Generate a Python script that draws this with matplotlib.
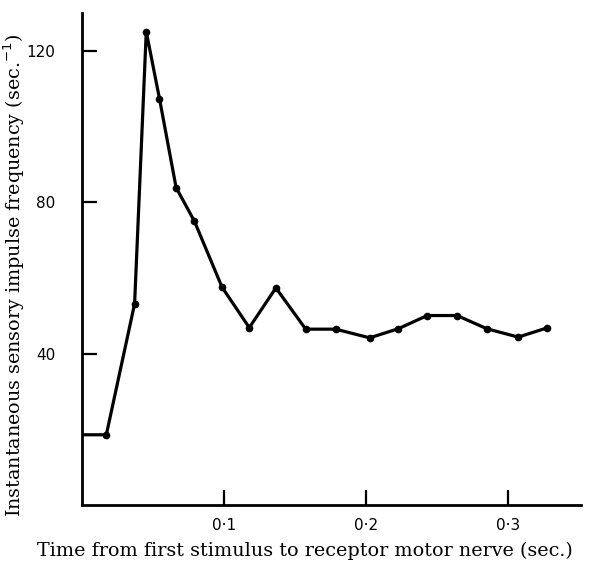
import matplotlib.pyplot as plt

# time after first stimulus (sec.) and instantaneous impulse frequency (sec.^-1)
time_s = [0.0, 0.0172, 0.0371, 0.0453, 0.0546, 0.0663, 0.0792, 0.0986, 0.1178,
          0.1365, 0.1575, 0.1786, 0.2025, 0.2225, 0.243, 0.264, 0.285, 0.307, 0.327]
freq = [18.6, 18.6, 53.2, 125.1, 107.4, 83.9, 75.0, 57.6, 46.9,
        57.4, 46.5, 46.5, 44.2, 46.6, 50.1, 50.1, 46.6, 44.4, 46.8]

xticks = [0.1, 0.2, 0.3]
xticklabels = ["0·1", "0·2", "0·3"]
yticks = [40, 80, 120]

fig = plt.figure(figsize=(5.89, 5.67), dpi=100)
ax = fig.add_axes([0.139, 0.109, 0.847, 0.868])

# first value has no dot, the trace just starts at the axis
ax.plot(time_s, freq, color="black", lw=2.3, marker="o", ms=4.5,
        markevery=list(range(1, len(time_s))), solid_joinstyle="round")

ax.set_xlim(0, 0.351)
ax.set_ylim(0, 130)
ax.set_xticks(xticks)
ax.set_xticklabels(xticklabels)
ax.set_yticks(yticks)

for side in ["top", "right"]:
    ax.spines[side].set_visible(False)
for side in ["left", "bottom"]:
    ax.spines[side].set_linewidth(2)

ax.tick_params(direction="in", length=11, width=1.6, labelsize=11)
ax.tick_params(axis="y", pad=19)
ax.tick_params(axis="x", pad=9)

serif = ["DejaVu Serif"]
ax.set_xlabel("Time from first stimulus to receptor motor nerve (sec.)",
              family=serif, fontsize=13.8)
ax.set_ylabel("Instantaneous sensory impulse frequency (sec.$^{-1}$)",
              family=serif, fontsize=13.8)
ax.xaxis.set_label_coords(0.447, -0.075)
ax.yaxis.set_label_coords(-0.11, 0.468)

fig.savefig("out.png", dpi=100)
